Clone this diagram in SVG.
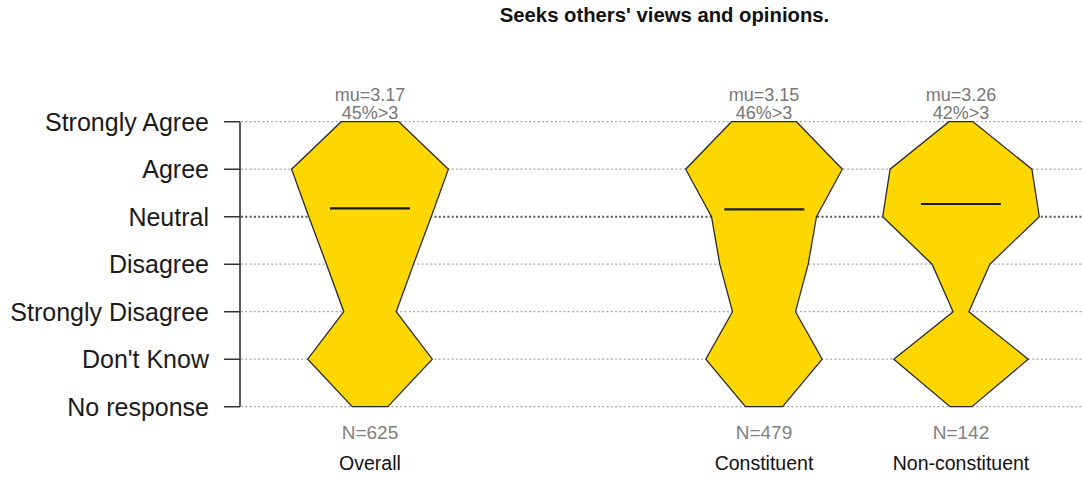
<svg xmlns="http://www.w3.org/2000/svg" width="1082" height="479" viewBox="0 0 1082 479">
<style>
text{font-family:"Liberation Sans",Arial,sans-serif}
.ylab{font-size:25px;fill:#1a1a1a;text-anchor:end}
.stat{font-size:18px;fill:#777;text-anchor:middle}
.n{font-size:19px;fill:#808080;text-anchor:middle}
.cat{font-size:19.5px;fill:#111;text-anchor:middle}
.title{font-size:20.3px;font-weight:bold;fill:#111;text-anchor:middle}
.grid{stroke:#a6a6a6;stroke-width:1.2;stroke-dasharray:2 2.3;fill:none}
.grid0{stroke:#555;stroke-width:2;stroke-dasharray:2 2.3;fill:none}
.axis{stroke:#333;stroke-width:1.6;fill:none}
.violin{fill:#FFD700;stroke:#2a2a2a;stroke-width:1.3;stroke-linejoin:miter}
.median{stroke:#1a1a1a;stroke-width:2.2}
</style>
<rect width="1082" height="479" fill="#fff"/>
<text class="title" x="664.5" y="21.5">Seeks others' views and opinions.</text>
<g id="grid">
<line class="grid" x1="241" y1="121.7" x2="1082" y2="121.7"/>
<line class="grid" x1="241" y1="169.2" x2="1082" y2="169.2"/>
<line class="grid0" x1="241" y1="216.7" x2="1082" y2="216.7"/>
<line class="grid" x1="241" y1="264.2" x2="1082" y2="264.2"/>
<line class="grid" x1="241" y1="311.7" x2="1082" y2="311.7"/>
<line class="grid" x1="241" y1="359.2" x2="1082" y2="359.2"/>
<line class="grid" x1="241" y1="406.7" x2="1082" y2="406.7"/>
</g>
<g id="axis">
<path class="axis" d="M240 121.7V406.7M224 121.7H240M224 169.2H240M224 216.7H240M224 264.2H240M224 311.7H240M224 359.2H240M224 406.7H240"/>
<text class="ylab" x="209" y="130.7">Strongly Agree</text>
<text class="ylab" x="209" y="178.2">Agree</text>
<text class="ylab" x="209" y="225.7">Neutral</text>
<text class="ylab" x="209" y="273.2">Disagree</text>
<text class="ylab" x="209" y="320.7">Strongly Disagree</text>
<text class="ylab" x="209" y="368.2">Don't Know</text>
<text class="ylab" x="209" y="415.7">No response</text>
</g>
<g id="overall">
<polygon class="violin" points="398.8,121.7 448.4,169.2 431.2,216.7 413.5,264.2 396.2,311.7 432.3,359.2 387.8,406.7 352.2,406.7 307.7,359.2 343.8,311.7 326.5,264.2 308.8,216.7 291.6,169.2 341.2,121.7"/>
<line class="median" x1="330" y1="208.3" x2="410" y2="208.3"/>
<text class="stat" x="370" y="100.5">mu=3.17</text>
<text class="stat" x="370" y="118.5">45%&gt;3</text>
<text class="n" x="370" y="438.5">N=625</text>
<text class="cat" x="370" y="469.5">Overall</text>
</g>
<g id="constituent">
<polygon class="violin" points="796.5,121.7 842.3,169.2 816.5,216.7 808.2,264.2 795.5,311.7 822.2,359.2 782.6,406.7 745.4,406.7 705.8,359.2 732.5,311.7 719.8,264.2 711.5,216.7 685.7,169.2 731.5,121.7"/>
<line class="median" x1="724.3" y1="209.3" x2="804.3" y2="209.3"/>
<text class="stat" x="764" y="100.5">mu=3.15</text>
<text class="stat" x="764" y="118.5">46%&gt;3</text>
<text class="n" x="764" y="438.5">N=479</text>
<text class="cat" x="764" y="469.5">Constituent</text>
</g>
<g id="non-constituent">
<polygon class="violin" points="973,121.7 1031.9,169.2 1039.3,216.7 989.9,264.2 968.9,311.7 1028.2,359.2 971.9,406.7 950.1,406.7 893.8,359.2 953.1,311.7 932.1,264.2 882.7,216.7 890.1,169.2 949,121.7"/>
<line class="median" x1="920.9" y1="204" x2="1000.9" y2="204"/>
<text class="stat" x="961" y="100.5">mu=3.26</text>
<text class="stat" x="961" y="118.5">42%&gt;3</text>
<text class="n" x="961" y="438.5">N=142</text>
<text class="cat" x="961" y="469.5">Non-constituent</text>
</g>
</svg>
